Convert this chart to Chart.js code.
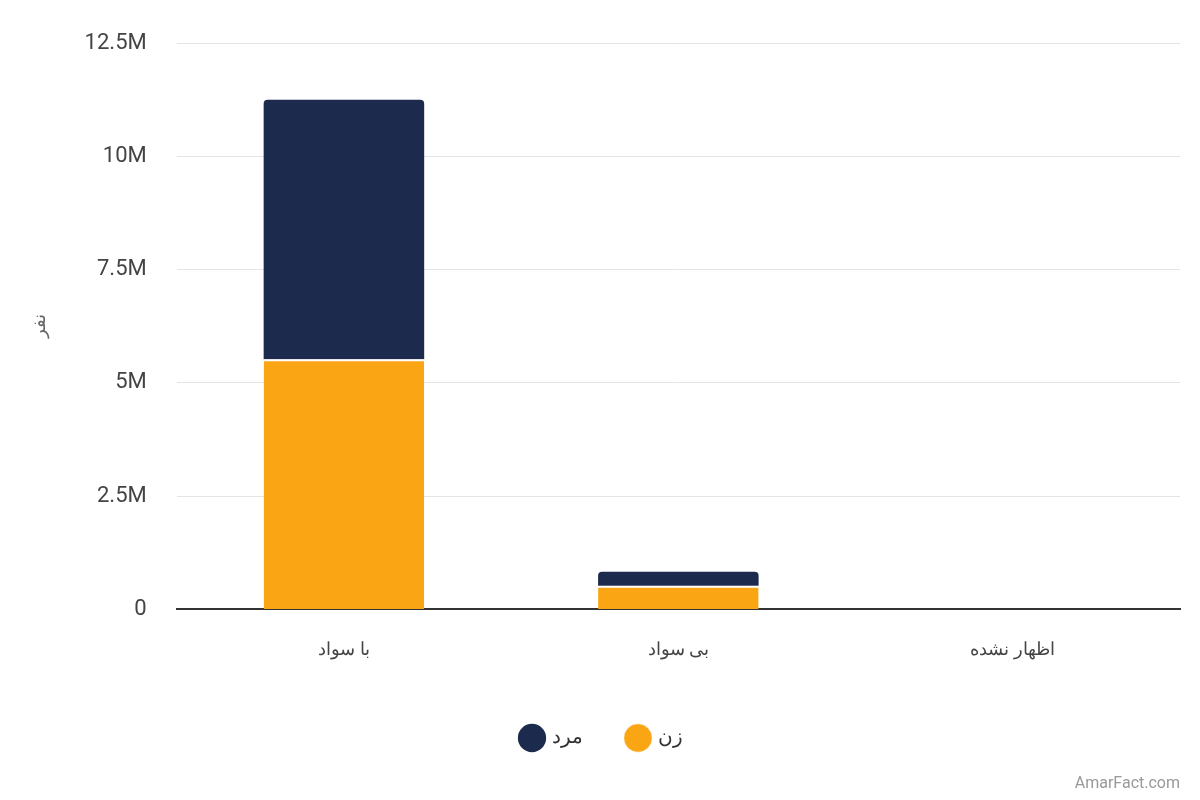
<!DOCTYPE html>
<html><head><meta charset="utf-8">
<script src="https://cdn.jsdelivr.net/npm/chart.js@4"></script>
<style>body{margin:0;background:#fff}#w{position:relative;width:1200px;height:800px}
#wm{position:absolute;right:20px;bottom:8px;font:16px Roboto,sans-serif;color:#999}</style>
</head><body><div id="w"><canvas id="c" width="1200" height="800"></canvas><div id="wm">AmarFact.com</div></div>
<script>
const categories = ["با سواد", "بی سواد", "اظهار نشده"];
const female = [5520000, 520000, 0];
const male = [5730000, 310000, 0];
const yTicks = [0, 2500000, 5000000, 7500000, 10000000, 12500000];
const fmt = v => v === 0 ? "0" : (v/1e6) + "M";
new Chart(document.getElementById('c'), {
  type: 'bar',
  data: { labels: categories, datasets: [
    { label: 'زن', data: female, backgroundColor: '#f9a514', borderColor:'#fff', borderWidth:{top:2}, borderSkipped:'bottom', barPercentage:0.48, categoryPercentage:1 },
    { label: 'مرد', data: male, backgroundColor: '#1b2a4d', borderRadius:{topLeft:4,topRight:4}, borderSkipped:'bottom', barPercentage:0.48, categoryPercentage:1 }
  ]},
  options: {
    responsive:false, animation:false,
    layout:{padding:{top:-15,right:20,bottom:42,left:25}},
    plugins:{ legend:{position:'bottom', reverse:true, labels:{usePointStyle:true, pointStyle:'circle', boxWidth:22, boxHeight:22, padding:45, font:{size:20, family:'Roboto, "Noto Sans"'}, color:'#333'}}, tooltip:{enabled:false}},
    scales:{
      x:{stacked:true, grid:{display:false}, border:{color:'#333', width:2}, ticks:{font:{size:18, family:'"Noto Sans", sans-serif'}, color:'#444', padding:22}},
      y:{stacked:true, min:0, max:12500000, afterBuildTicks: a => { a.ticks = yTicks.map(v=>({value:v})); },
        grid:{color:'#e4e4e4', drawTicks:false}, border:{display:false},
        ticks:{callback: fmt, font:{size:22, family:'Roboto'}, color:'#444', padding:30},
        title:{display:true, text:'نفر', font:{size:18, family:'"Noto Sans"'}, color:'#666'}}
    }
  }
});
</script></body></html>
